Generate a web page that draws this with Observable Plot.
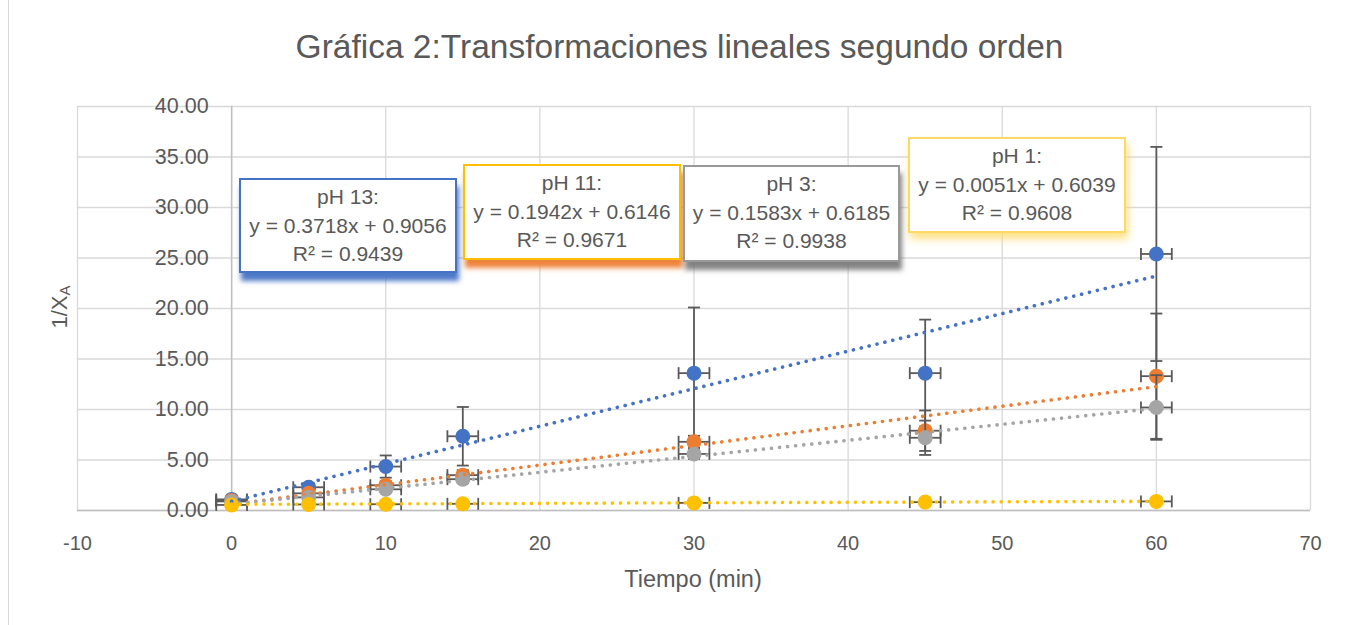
<!DOCTYPE html>
<html><head><meta charset="utf-8">
<script src="https://cdn.jsdelivr.net/npm/d3@7"></script>
<script src="https://cdn.jsdelivr.net/npm/@observablehq/plot@0.6"></script>
<style>
body{margin:0;background:#fff;font-family:"Liberation Sans",Arial,sans-serif;}
#wrap{position:relative;width:1351px;height:625px;overflow:hidden;background:#fff;}
#frame{position:absolute;left:8px;top:-2px;width:1400px;height:700px;border-left:1.5px solid #d9d9d9;}
#title{position:absolute;top:28px;left:0;width:1351px;text-align:center;font-size:33.5px;color:#595959;padding-left:8px;box-sizing:border-box;white-space:nowrap;}
#chart{position:absolute;left:0;top:90px;}
#xlab{position:absolute;top:566px;left:543px;width:300px;text-align:center;font-size:23.5px;color:#595959;}
#ylab{position:absolute;left:60px;top:307px;transform:translate(-50%,-50%) rotate(-90deg);font-size:22px;color:#595959;white-space:nowrap;}
#ylab sub{font-size:15px;vertical-align:-3px;}
.box{position:absolute;background:#fff;text-align:center;color:#595959;font-size:21px;line-height:28.5px;box-sizing:border-box;padding-top:3px;border:2px solid;white-space:nowrap;}
</style></head>
<body>
<div id="wrap">
  <div id="frame"></div>
  <div id="title">Gráfica 2:Transformaciones lineales segundo orden</div>
  <div id="chart"></div>
  <div id="xlab">Tiempo (min)</div>
  <div id="ylab">1/X<sub>A</sub></div>
</div>
<script>
// ---- data ----
const times = [0, 5, 10, 15, 30, 45, 60];
const seriesNames = ["pH 13", "pH 11", "pH 3", "pH 1"];
const seriesColors = ["#4472C4", "#ED7D31", "#A5A5A5", "#FFC000"];
const ph13 = [1.1, 2.3, 4.35, 7.35, 13.6, 13.6, 25.4];
const ph11 = [1.0, 1.7, 2.5, 3.5, 6.8, 7.9, 13.3];
const ph3  = [0.9, 1.3, 2.1, 3.1, 5.6, 7.2, 10.2];
const ph1  = [0.55, 0.6, 0.62, 0.66, 0.75, 0.83, 0.9];
const err13 = [0.3, 0.4, 1.1, 2.9, 6.5, 5.3, 10.6];
const err11 = [0.2, 0.3, 0.4, 0.5, 0.6, 2.0, 6.2];
const err3  = [0.2, 0.2, 0.3, 0.4, 0.5, 1.7, 3.2];
const err1  = [0.05, 0.05, 0.05, 0.05, 0.05, 0.05, 0.05];
const timeErr = 1;
const slopes = [0.3718, 0.1942, 0.1583, 0.0051];
const intercepts = [0.9056, 0.6146, 0.6185, 0.6039];
const r2 = [0.9439, 0.9671, 0.9938, 0.9608];
const xTicks = [-10, 0, 10, 20, 30, 40, 50, 60, 70];
const yTicks = [0, 5, 10, 15, 20, 25, 30, 35, 40];
const fitRange = [0, 60];

const values = [ph13, ph11, ph3, ph1];
const errs = [err13, err11, err3, err1];

const capH = {draw(ctx, size){const r = Math.sqrt(size/Math.PI); ctx.moveTo(-r,0); ctx.lineTo(r,0);}};
const capV = {draw(ctx, size){const r = Math.sqrt(size/Math.PI); ctx.moveTo(0,-r); ctx.lineTo(0,r);}};

const errColor = "#595959";
const marks = [
  Plot.ruleX(xTicks, {stroke: "#d9d9d9", strokeWidth: 1.3}),
  Plot.ruleY(yTicks, {stroke: "#d9d9d9", strokeWidth: 1.3}),
  Plot.ruleX([0], {stroke: "#bfbfbf", strokeWidth: 1.5}),
  Plot.ruleY([0], {stroke: "#bfbfbf", strokeWidth: 1.5}),
  Plot.text(yTicks, {x: () => 0, y: d => d, text: d => d.toFixed(2), dx: -23, textAnchor: "end", fontSize: 21.5, fill: "#595959"}),
  Plot.axisX(xTicks, {tickSize: 0, tickPadding: 25, fontSize: 20, fill: "#595959", label: null, tickFormat: d => String(d)})
];

seriesNames.forEach((name, s) => {
  const rows = times.map((t, i) => ({t, v: values[s][i], e: errs[s][i]}));
  marks.push(
    Plot.ruleX(rows, {x: "t", y1: d => d.v - d.e, y2: d => d.v + d.e, stroke: errColor, strokeWidth: 1.8}),
    Plot.ruleY(rows, {y: "v", x1: d => d.t - timeErr, x2: d => d.t + timeErr, stroke: errColor, strokeWidth: 1.8}),
    Plot.dot(rows, {x: "t", y: d => d.v + d.e, symbol: capH, r: 6, stroke: errColor, strokeWidth: 1.8, fill: "none"}),
    Plot.dot(rows, {x: "t", y: d => d.v - d.e, symbol: capH, r: 6, stroke: errColor, strokeWidth: 1.8, fill: "none"}),
    Plot.dot(rows, {x: d => d.t - timeErr, y: "v", symbol: capV, r: 6, stroke: errColor, strokeWidth: 1.8, fill: "none"}),
    Plot.dot(rows, {x: d => d.t + timeErr, y: "v", symbol: capV, r: 6, stroke: errColor, strokeWidth: 1.8, fill: "none"}),
    Plot.dot(rows, {x: "t", y: "v", r: 7.5, fill: seriesColors[s], stroke: "none"})
  );
});
seriesNames.forEach((name, s) => {
  const fit = fitRange.map(t => ({t, v: slopes[s] * t + intercepts[s]}));
  marks.push(Plot.line(fit, {x: "t", y: "v", stroke: seriesColors[s], strokeWidth: 3.6, strokeDasharray: "0.1 8", strokeLinecap: "round"}));
});

const chart = Plot.plot({
  width: 1351, height: 525,
  marginTop: 16, marginBottom: 105, marginLeft: 77, marginRight: 41,
  x: {domain: [-10, 70], axis: null},
  y: {domain: [0, 40], axis: null},
  style: {fontFamily: "Liberation Sans, Arial, sans-serif", background: "transparent", color: "#595959", overflow: "visible"},
  marks
});
document.getElementById("chart").appendChild(chart);

// equation boxes
const boxPos = [
  {left: 239, top: 178, w: 218, h: 95, border: "#4472C4", shadow: "2px 8px 5px rgba(68,114,196,0.95)"},
  {left: 463, top: 164, w: 218, h: 96, border: "#FFC000", shadow: "2px 8px 5px rgba(237,125,49,0.95)"},
  {left: 683, top: 165, w: 217, h: 97, border: "#999999", shadow: "2px 8px 5px rgba(110,110,110,0.85)"},
  {left: 908, top: 137, w: 218, h: 96, border: "#FFD966", shadow: "2px 6px 8px rgba(255,217,102,0.8)"}
];
const wrap = document.getElementById("wrap");
seriesNames.forEach((name, s) => {
  const b = boxPos[s];
  const d = document.createElement("div");
  d.className = "box";
  Object.assign(d.style, {left: b.left + "px", top: b.top + "px", width: b.w + "px", height: b.h + "px", borderColor: b.border, boxShadow: b.shadow});
  d.innerHTML = `${name}:<br>y = ${slopes[s].toFixed(4)}x + ${intercepts[s].toFixed(4)}<br>R² = ${r2[s].toFixed(4)}`;
  wrap.appendChild(d);
});
</script>
</body></html>
